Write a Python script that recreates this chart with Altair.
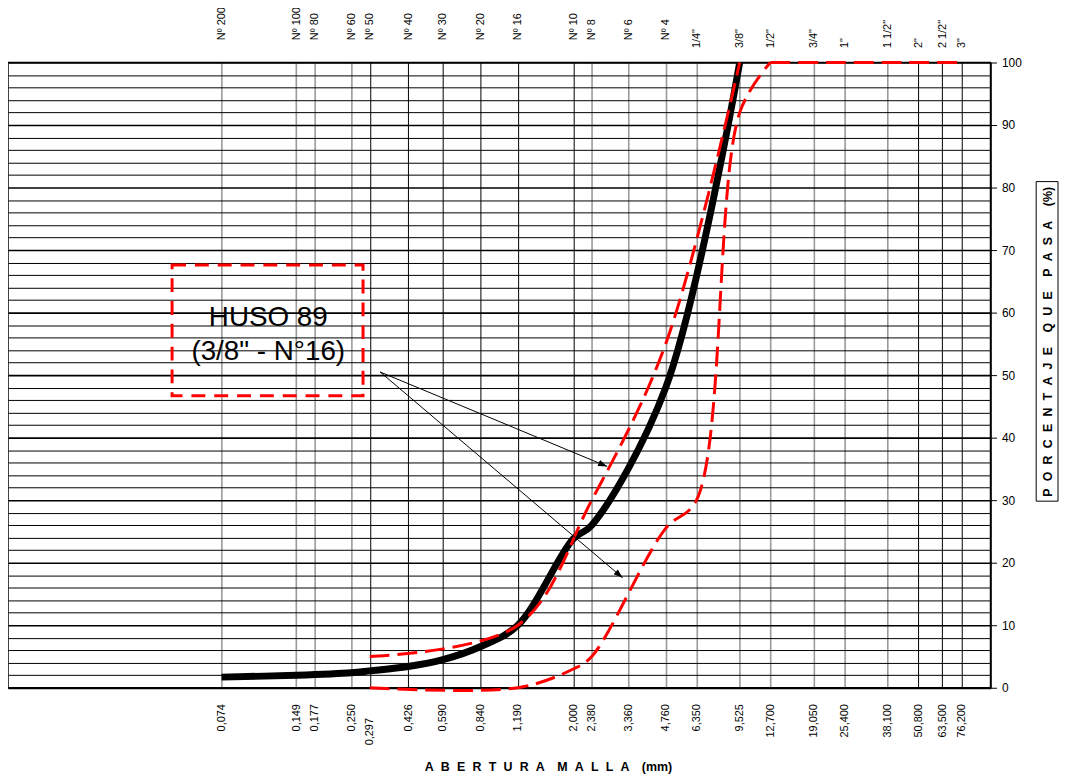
import json
import math
import altair as alt
import pandas as pd

# ---------------- data ----------------
sieve_mm = [0.074, 0.149, 0.177, 0.250, 0.297, 0.426, 0.590, 0.840, 1.190, 2.000,
            2.380, 3.360, 4.760, 6.350, 9.525, 12.700, 19.050, 25.400, 38.100,
            50.800, 63.500, 76.200]
sieve_names = ["Nº 200", "Nº 100", "Nº 80", "Nº 60", "Nº 50", "Nº 40", "Nº 30",
               "Nº 20", "Nº 16", "Nº 10", "Nº 8", "Nº 6", "Nº 4", '1/4"', '3/8"',
               '1/2"', '3/4"', '1"', '1 1/2"', '2"', '2 1/2"', '3"']
dark_sieves = [0.297, 0.426, 0.590, 0.840, 1.190, 2.000, 50.800, 63.500, 76.200]

# sample gradation (black curve)
sample_mm = [0.074, 0.149, 0.250, 0.297, 0.426, 0.590, 0.840, 1.190, 2.000, 2.380, 4.760, 9.525]
sample_pct = [1.7, 2.0, 2.4, 2.7, 3.4, 4.5, 6.6, 10.0, 23.8, 26.0, 48.0, 100.0]

# HUSO 89 limits (red dashed)
upper_mm = [0.297, 1.190, 2.380, 4.760, 9.525]
upper_pct = [5.0, 10.0, 30.0, 55.0, 100.0]
lower_mm = [0.297, 1.190, 2.000, 2.380, 4.760, 6.350, 9.525, 12.700]
lower_pct = [0.0, 0.0, 3.0, 5.0, 25.5, 30.0, 92.0, 100.0]
lower_top_mm = [12.700, 19.050, 25.400, 38.100, 50.800, 76.200]
lower_top_pct = [100.0, 100.0, 100.0, 100.0, 100.0, 100.0]

# annotation box and text (data units)
box_mm = [0.04656, 0.2789]
box_pct = [46.7, 67.6]
note_lines = ["HUSO 89", '(3/8" - N°16)']
note_mm = [0.1147, 0.1147]
note_pct = [57.9, 52.4]

# arrows (data units)
arrow_start_mm = [0.3275, 0.3275]
arrow_start_pct = [50.5, 50.5]
arrow_end_mm = [2.749, 3.178]
arrow_end_pct = [35.4, 17.6]

# ---------------- layout ----------------
W, H = 990, 630
X_DOMAIN = [0.01, 100]
FONT = "Liberation Sans"


def px(v):
    return (math.log10(v) - math.log10(X_DOMAIN[0])) / (math.log10(X_DOMAIN[1]) - math.log10(X_DOMAIN[0])) * W


def py(p):
    return H - p / 100.0 * H


arrow_angle = []
for a, b, c, d in zip(arrow_start_mm, arrow_start_pct, arrow_end_mm, arrow_end_pct):
    dx = px(c) - px(a)
    dy = py(d) - py(b)
    arrow_angle.append(math.degrees(math.atan2(dx, -dy)) % 360)

sample_df = pd.DataFrame({"mm": sample_mm, "pct": sample_pct})
limits_df = pd.concat([
    pd.DataFrame({"mm": upper_mm, "pct": upper_pct, "serie": "superior"}),
    pd.DataFrame({"mm": lower_mm, "pct": lower_pct, "serie": "inferior"}),
    pd.DataFrame({"mm": lower_top_mm, "pct": lower_top_pct, "serie": "inferior_tope"}),
])
box_df = pd.DataFrame({"x1": [box_mm[0]], "x2": [box_mm[1]], "y1": [box_pct[0]], "y2": [box_pct[1]]})
note_df = pd.DataFrame({"mm": note_mm, "pct": note_pct, "txt": note_lines})
arrow_df = pd.DataFrame({"x1": arrow_start_mm, "y1": arrow_start_pct,
                         "x2": arrow_end_mm, "y2": arrow_end_pct, "ang": arrow_angle})

xscale = alt.Scale(type="log", domain=X_DOMAIN, nice=False)
yscale = alt.Scale(domain=[0, 100], nice=False, zero=True)

dark_test = "indexof(%s, datum.value) >= 0" % json.dumps(dark_sieves)
major_test = "datum.value % 10 === 0"

SP = "\u2004\u2005"      # letter gap (~0.58 em)
X_WG = "\u2003"          # word gap, x title
Y_WG = "\u2003\u2006"    # word gap, y title

bottom_axis = alt.Axis(
    orient="bottom", values=sieve_mm,
    labelExpr="replace(format(datum.value, '.3f'), '.', ',')",
    labelAngle=270, labelAlign="right", labelBaseline="middle",
    labelFont=FONT, labelFontSize=11, labelColor="black",
    labelPadding={"condition": {"test": "datum.value == 0.297", "value": 30}, "value": 16},
    labelOverlap=False, labelFlush=False,
    ticks=False, grid=True,
    gridColor={"condition": {"test": dark_test, "value": "#000000"}, "value": "#9a9a9a"},
    gridWidth={"condition": {"test": dark_test, "value": 1}, "value": 1.6},
    gridOpacity=1,
    domainColor="black", domainWidth=2,
    title=SP.join("ABERTURA") + X_WG + SP.join("MALLA") + X_WG + "(mm)",
    titleFont=FONT, titleFontSize=12.5, titleFontWeight="bold", titleColor="black",
    titleX=544, titleY=83, titleAlign="center", titleBaseline="alphabetic", titleAnchor="start",
)

top_axis = alt.Axis(
    orient="top", values=sieve_mm,
    labelExpr="%s[indexof(%s, datum.value)]" % (json.dumps(sieve_names), json.dumps(sieve_mm)),
    labelAngle=270, labelAlign="left", labelBaseline="middle",
    labelFont=FONT, labelFontSize=11, labelColor="black",
    labelPadding={"condition": {"test": "datum.value < 6", "value": 23}, "value": 15},
    labelOverlap=False, labelFlush=False,
    ticks=False, grid=False, domain=False, title=None,
)

y_axis = alt.Axis(
    orient="right", values=list(range(0, 101, 2)),
    labelExpr="%s ? datum.label : ''" % major_test,
    labelFont=FONT, labelFontSize=12, labelColor="black", labelPadding=5,
    grid=True, gridColor="black", gridOpacity=1,
    gridWidth={"condition": {"test": major_test, "value": 1.6}, "value": 1},
    ticks=True, tickColor="black",
    tickSize={"condition": {"test": major_test, "value": 6}, "value": 0},
    domainColor="black", domainWidth=1.5,
    title=SP.join("PORCENTAJE") + Y_WG + SP.join("QUE") + Y_WG + SP.join("PASA") + Y_WG + "(%)",
    titleFont=FONT, titleFontSize=12.5, titleFontWeight="bold", titleColor="black",
    titleAngle=270, titleX=57, titleY=281, titleAlign="center", titleBaseline="middle",
)

sample = alt.Chart(sample_df).mark_line(
    color="black", strokeWidth=7, interpolate="catmull-rom"
).encode(
    x=alt.X("mm:Q", scale=xscale, axis=bottom_axis),
    y=alt.Y("pct:Q", scale=yscale, axis=y_axis),
)

limits = alt.Chart(limits_df).mark_line(
    color="#ff0000", strokeWidth=3, strokeDash=[20, 8], interpolate="catmull-rom"
).encode(
    x=alt.X("mm:Q", scale=xscale, axis=top_axis),
    y=alt.Y("pct:Q", scale=yscale, axis=None),
    detail="serie:N",
)

box = alt.Chart(box_df).mark_rect(
    fillOpacity=0, stroke="#ff0000", strokeWidth=3, strokeDash=[14, 9]
).encode(
    x=alt.X("x1:Q", scale=xscale, axis=None), x2="x2:Q",
    y=alt.Y("y1:Q", scale=yscale, axis=None), y2="y2:Q",
)

note = alt.Chart(note_df).mark_text(
    font=FONT, fontSize=28, color="black", align="center", baseline="alphabetic"
).encode(
    x=alt.X("mm:Q", scale=xscale, axis=None),
    y=alt.Y("pct:Q", scale=yscale, axis=None),
    text="txt:N",
)

arrows = alt.Chart(arrow_df).mark_rule(color="black", strokeWidth=1).encode(
    x=alt.X("x1:Q", scale=xscale, axis=None), x2="x2:Q",
    y=alt.Y("y1:Q", scale=yscale, axis=None), y2="y2:Q",
)

heads = alt.Chart(arrow_df).mark_point(
    shape="M0,0L-0.36,1L0.36,1Z", filled=True, color="black", opacity=1, size=330, strokeWidth=0
).encode(
    x=alt.X("x2:Q", scale=xscale, axis=None),
    y=alt.Y("y2:Q", scale=yscale, axis=None),
    angle=alt.Angle("ang:Q", scale=None),
)

title_box = alt.Chart(pd.DataFrame({"k": [0]})).mark_rect(
    fillOpacity=0, stroke="black", strokeWidth=1
).encode(
    x=alt.value(1036), x2=alt.value(1058), y=alt.value(120), y2=alt.value(442),
)

chart = alt.layer(sample, limits, box, note, arrows, heads, title_box).resolve_axis(
    x="independent", y="independent"
).properties(
    width=W, height=H,
    padding={"left": 0, "top": 52, "right": 69, "bottom": 86},
    autosize=alt.AutoSizeParams(type="none"),
).configure_view(
    stroke="black", strokeWidth=1.5
)

chart.save("out.html", embed_options={"renderer": "svg", "actions": False})
